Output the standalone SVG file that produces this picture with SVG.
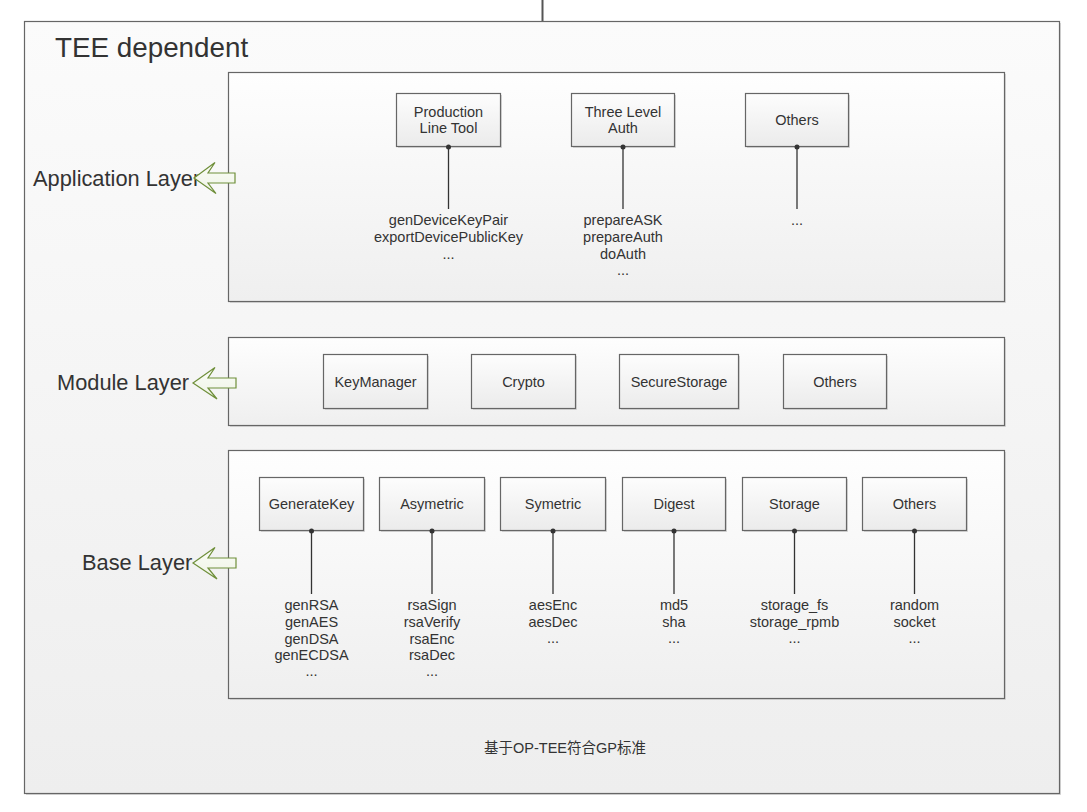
<svg xmlns="http://www.w3.org/2000/svg" width="1087" height="812" viewBox="0 0 1087 812">
<defs>
<linearGradient id="gOuter" x1="0" y1="0" x2="0" y2="1"><stop offset="0" stop-color="#fbfbfb"/><stop offset="1" stop-color="#eeeeee"/></linearGradient>
<linearGradient id="gLayer" x1="0" y1="0" x2="0" y2="1"><stop offset="0" stop-color="#fefefe"/><stop offset="1" stop-color="#efefef"/></linearGradient>
<linearGradient id="gBox" x1="0" y1="0" x2="0" y2="1"><stop offset="0" stop-color="#fdfdfd"/><stop offset="1" stop-color="#ebebeb"/></linearGradient>
<linearGradient id="gArrow" x1="0" y1="0" x2="0" y2="1"><stop offset="0" stop-color="#fbfdf7"/><stop offset="1" stop-color="#eef3e6"/></linearGradient>
</defs>
<style>
text{font-family:"Liberation Sans",Arial,"Noto Sans CJK SC",sans-serif;fill:#333;}
.t{font-size:14.5px;text-anchor:middle;}
.big{font-size:27.8px;}
.lay{font-size:21.8px;}
.outer{fill:url(#gOuter);stroke:#666;stroke-width:1.2;}
.layer{fill:url(#gLayer);stroke:#666;stroke-width:1.2;}
.box{fill:url(#gBox);stroke:#666;stroke-width:1.2;}
.shadow{fill:#d8d8d8;}
.arrow{fill:url(#gArrow);stroke:#6f8f3a;stroke-width:1.2;stroke-linejoin:miter;}
.conn line{stroke:#333;stroke-width:1.3;}
.conn circle{fill:#333;}
</style>
<rect width="1087" height="812" fill="#ffffff"/>
<line x1="542.5" y1="0" x2="542.5" y2="21" stroke="#555" stroke-width="2"/>
<g id="tee">
<rect class="shadow" x="26" y="23" width="1035" height="772"/>
<rect class="outer" x="24.5" y="21.5" width="1035" height="772"/>
<text class="big" x="55" y="57">TEE dependent</text>
<text class="t" x="565" y="753">基于OP-TEE符合GP标准</text>
</g>
<g id="applicationLayer">
<rect class="shadow" x="230" y="74" width="776" height="229"/>
<rect class="layer" x="228.5" y="72.5" width="776" height="229"/>
<text class="lay" x="33" y="185.5">Application Layer</text>
<polygon class="arrow" points="194,178 215,162.5 208,173 235,173 235,183 208,183 216,193.5"/>
</g>
<g id="moduleLayer">
<rect class="shadow" x="230" y="339" width="776" height="88"/>
<rect class="layer" x="228.5" y="337.5" width="776" height="88"/>
<text class="lay" x="57" y="389.5">Module Layer</text>
<polygon class="arrow" points="193,383 215,367.5 208,378 236,378 236,388 208,388 217,399"/>
</g>
<g id="baseLayer">
<rect class="shadow" x="230" y="452" width="776" height="248"/>
<rect class="layer" x="228.5" y="450.5" width="776" height="248"/>
<text class="lay" x="82" y="569.5">Base Layer</text>
<polygon class="arrow" points="193,563 215,547.5 208,558 236,558 236,568 208,568 217,579"/>
</g>
<g id="productionLineTool">
<rect class="shadow" x="398" y="95" width="104" height="53"/>
<rect class="box" x="396.5" y="93.5" width="104" height="53"/>
<text class="t" x="448.5" y="117">Production</text>
<text class="t" x="448.5" y="133">Line Tool</text>
<text class="t" x="448.5" y="225">genDeviceKeyPair</text>
<text class="t" x="448.5" y="242">exportDevicePublicKey</text>
<text class="t" x="448.5" y="258.5">...</text>
</g>
<g id="threeLevelAuth">
<rect class="shadow" x="573" y="95" width="103" height="53"/>
<rect class="box" x="571.5" y="93.5" width="103" height="53"/>
<text class="t" x="623" y="117">Three Level</text>
<text class="t" x="623" y="133">Auth</text>
<text class="t" x="623" y="225">prepareASK</text>
<text class="t" x="623" y="242">prepareAuth</text>
<text class="t" x="623" y="258.5">doAuth</text>
<text class="t" x="623" y="275">...</text>
</g>
<g id="appOthers">
<rect class="shadow" x="747" y="95" width="103" height="53"/>
<rect class="box" x="745.5" y="93.5" width="103" height="53"/>
<text class="t" x="797" y="125">Others</text>
<text class="t" x="797" y="225">...</text>
</g>
<g id="keyManager">
<rect class="shadow" x="325" y="356" width="104" height="54"/>
<rect class="box" x="323.5" y="354.5" width="104" height="54"/>
<text class="t" x="375.5" y="387">KeyManager</text>
</g>
<g id="crypto">
<rect class="shadow" x="473" y="356" width="104" height="54"/>
<rect class="box" x="471.5" y="354.5" width="104" height="54"/>
<text class="t" x="523.5" y="387">Crypto</text>
</g>
<g id="secureStorage">
<rect class="shadow" x="621" y="356" width="119" height="54"/>
<rect class="box" x="619.5" y="354.5" width="119" height="54"/>
<text class="t" x="679" y="387">SecureStorage</text>
</g>
<g id="moduleOthers">
<rect class="shadow" x="785" y="356" width="103" height="54"/>
<rect class="box" x="783.5" y="354.5" width="103" height="54"/>
<text class="t" x="835" y="387">Others</text>
</g>
<g id="generateKey">
<rect class="shadow" x="261" y="479" width="104" height="53"/>
<rect class="box" x="259.5" y="477.5" width="104" height="53"/>
<text class="t" x="311.5" y="509">GenerateKey</text>
<text class="t" x="311.5" y="610">genRSA</text>
<text class="t" x="311.5" y="627">genAES</text>
<text class="t" x="311.5" y="644">genDSA</text>
<text class="t" x="311.5" y="660">genECDSA</text>
<text class="t" x="311.5" y="676">...</text>
</g>
<g id="asymetric">
<rect class="shadow" x="381" y="479" width="105" height="53"/>
<rect class="box" x="379.5" y="477.5" width="105" height="53"/>
<text class="t" x="432" y="509">Asymetric</text>
<text class="t" x="432" y="610">rsaSign</text>
<text class="t" x="432" y="627">rsaVerify</text>
<text class="t" x="432" y="644">rsaEnc</text>
<text class="t" x="432" y="660">rsaDec</text>
<text class="t" x="432" y="676">...</text>
</g>
<g id="symetric">
<rect class="shadow" x="502" y="479" width="105" height="53"/>
<rect class="box" x="500.5" y="477.5" width="105" height="53"/>
<text class="t" x="553" y="509">Symetric</text>
<text class="t" x="553" y="610">aesEnc</text>
<text class="t" x="553" y="627">aesDec</text>
<text class="t" x="553" y="643">...</text>
</g>
<g id="digest">
<rect class="shadow" x="624" y="479" width="103" height="53"/>
<rect class="box" x="622.5" y="477.5" width="103" height="53"/>
<text class="t" x="674" y="509">Digest</text>
<text class="t" x="674" y="610">md5</text>
<text class="t" x="674" y="627">sha</text>
<text class="t" x="674" y="643">...</text>
</g>
<g id="storage">
<rect class="shadow" x="744" y="479" width="104" height="53"/>
<rect class="box" x="742.5" y="477.5" width="104" height="53"/>
<text class="t" x="794.5" y="509">Storage</text>
<text class="t" x="794.5" y="610">storage_fs</text>
<text class="t" x="794.5" y="627">storage_rpmb</text>
<text class="t" x="794.5" y="643">...</text>
</g>
<g id="baseOthers">
<rect class="shadow" x="864" y="479" width="104" height="53"/>
<rect class="box" x="862.5" y="477.5" width="104" height="53"/>
<text class="t" x="914.5" y="509">Others</text>
<text class="t" x="914.5" y="610">random</text>
<text class="t" x="914.5" y="627">socket</text>
<text class="t" x="914.5" y="643">...</text>
</g>
<g id="connectors" class="conn">
<line x1="448.5" y1="147" x2="448.5" y2="209"/><circle cx="448.5" cy="147" r="2.5"/>
<line x1="623" y1="147" x2="623" y2="209"/><circle cx="623" cy="147" r="2.5"/>
<line x1="797" y1="147" x2="797" y2="209"/><circle cx="797" cy="147" r="2.5"/>
<line x1="311.5" y1="531" x2="311.5" y2="594"/><circle cx="311.5" cy="531" r="2.5"/>
<line x1="432" y1="531" x2="432" y2="594"/><circle cx="432" cy="531" r="2.5"/>
<line x1="553" y1="531" x2="553" y2="594"/><circle cx="553" cy="531" r="2.5"/>
<line x1="674" y1="531" x2="674" y2="594"/><circle cx="674" cy="531" r="2.5"/>
<line x1="794.5" y1="531" x2="794.5" y2="594"/><circle cx="794.5" cy="531" r="2.5"/>
<line x1="914.5" y1="531" x2="914.5" y2="594"/><circle cx="914.5" cy="531" r="2.5"/>
</g>
</svg>
